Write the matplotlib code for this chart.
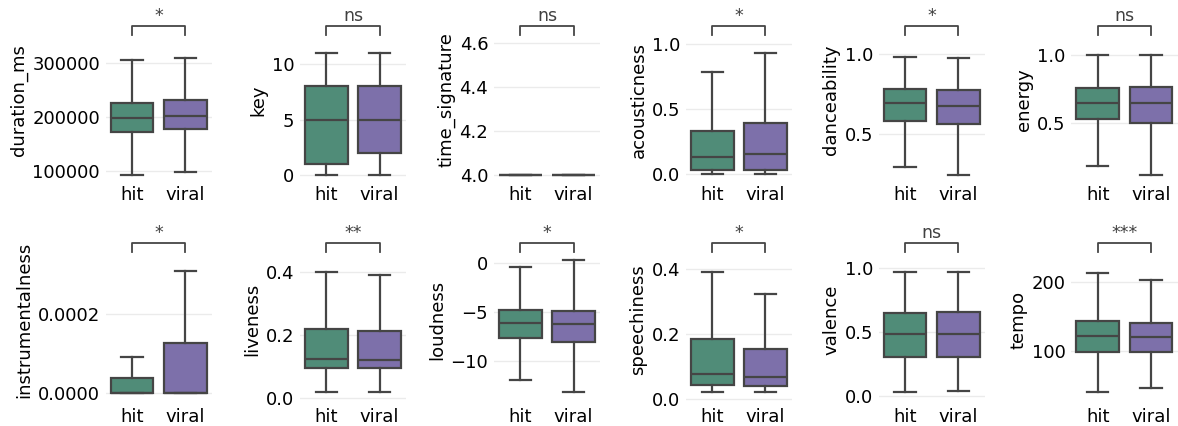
import numpy as np
import matplotlib.pyplot as plt
from matplotlib import transforms

# five-number summaries: [whislo, q1, median, q3, whishi]
features = ['duration_ms', 'key', 'time_signature', 'acousticness', 'danceability', 'energy',
            'instrumentalness', 'liveness', 'loudness', 'speechiness', 'valence', 'tempo']
groups = ['hit', 'viral']

hit_lo = [93000, 0, 4.0, 0.0, 0.292, 0.182, 0.0, 0.019, -11.93, 0.0206, 0.034, 40.1]
hit_q1 = [173000, 1, 4.0, 0.033, 0.583, 0.525, 0.0, 0.0966, -7.7, 0.0412, 0.305, 97.6]
hit_med = [199000, 5, 4.0, 0.131, 0.692, 0.643, 0.0, 0.125, -6.1, 0.0763, 0.483, 121.3]
hit_q3 = [225700, 8, 4.0, 0.333, 0.779, 0.754, 0.0000373, 0.219, -4.81, 0.1835, 0.650, 143.5]
hit_hi = [306000, 11, 4.0, 0.787, 0.979, 0.998, 0.0000915, 0.402, -0.47, 0.393, 0.974, 212]

viral_lo = [99000, 0, 4.0, 0.0, 0.246, 0.116, 0.0, 0.019, -13.12, 0.0206, 0.042, 46.4]
viral_q1 = [177600, 2, 4.0, 0.033, 0.5625, 0.5, 0.0, 0.0945, -8.1, 0.038, 0.305, 97.6]
viral_med = [203000, 5, 4.0, 0.154, 0.675, 0.643, 0.0, 0.12, -6.27, 0.066, 0.488, 119.8]
viral_q3 = [231000, 8, 4.0, 0.392, 0.775, 0.766, 0.000127, 0.213, -4.88, 0.1536, 0.661, 139.6]
viral_hi = [310000, 11, 4.0, 0.931, 0.977, 0.998, 0.000309, 0.391, 0.27, 0.325, 0.974, 202]

significance = ['*', 'ns', 'ns', '*', '*', 'ns', '*', '**', '*', '*', 'ns', '***']

yticks = [[100000, 200000, 300000], [0, 5, 10], [4.0, 4.2, 4.4, 4.6], [0.0, 0.5, 1.0],
          [0.5, 1.0], [0.5, 1.0], [0.0, 0.0002], [0.0, 0.2, 0.4], [-10, -5, 0],
          [0.0, 0.2, 0.4], [0.0, 0.5, 1.0], [100, 200]]
ytick_fmt = ['%d', '%d', '%.1f', '%.1f', '%.1f', '%.1f', '%.4f', '%.1f', '%d', '%.1f', '%.1f', '%d']

# view limits
ylims = [(83270, 380500), (-0.45, 14.0), (3.977, 4.703), (-0.044, 1.187), (0.2125, 1.2125),
         (0.0765, 1.259), (-0.0000236, 0.0003957), (-0.0127, 0.5124), (-14.17, 2.61),
         (-0.0102, 0.4998), (-0.047, 1.245), (25.6, 264.8)]

colors = ['#508c78', '#7d70aa']
line_c = '#454545'

W, H = 1178, 426
fig = plt.figure(figsize=(W / 100, H / 100), dpi=100)
col_left = [105.5, 299.7, 493.8, 685.6, 878.5, 1071.0]
ax_w = 106.5
rows = [(20, 180), (237, 402)]

for i, feat in enumerate(features):
    r, c = divmod(i, 6)
    top, bot = rows[r]
    ax = fig.add_axes([col_left[c] / W, 1 - bot / H, ax_w / W, (bot - top) / H])

    stats = [
        dict(whislo=hit_lo[i], q1=hit_q1[i], med=hit_med[i], q3=hit_q3[i], whishi=hit_hi[i]),
        dict(whislo=viral_lo[i], q1=viral_q1[i], med=viral_med[i], q3=viral_q3[i], whishi=viral_hi[i]),
    ]
    bp = ax.bxp(stats, positions=[0, 1], widths=0.8, capwidths=0.4, showfliers=False,
                patch_artist=True,
                boxprops=dict(edgecolor=line_c, linewidth=1.6),
                medianprops=dict(color=line_c, linewidth=1.6),
                whiskerprops=dict(color=line_c, linewidth=1.6),
                capprops=dict(color=line_c, linewidth=1.6))
    for patch, col in zip(bp['boxes'], colors):
        patch.set_facecolor(col)

    ax.set_xlim(-0.5, 1.5)
    ax.set_ylim(*ylims[i])
    ax.set_xticks([0, 1])
    ax.set_xticklabels(groups, fontsize=13)
    ax.set_yticks(yticks[i])
    ax.set_yticklabels([(ytick_fmt[i] % v).replace('-', '\u2212') for v in yticks[i]], fontsize=13)
    ax.set_ylabel(feat, fontsize=13, labelpad=3)
    ax.tick_params(length=0, pad=4)
    ax.yaxis.grid(True, color='#ebebeb', linewidth=1)
    ax.set_axisbelow(True)
    for s in ax.spines.values():
        s.set_visible(False)

    # significance bracket
    tr = transforms.blended_transform_factory(ax.transData, ax.transAxes)
    ytop = 1 - 6 / (bot - top)
    yleg = 1 - 15 / (bot - top)
    ax.plot([0, 0, 1, 1], [yleg, ytop, ytop, yleg], color=line_c, lw=1.3,
            transform=tr, clip_on=False)
    ax.text(0.5, ytop + 0.005, significance[i], transform=tr, ha='center', va='bottom',
            fontsize=12.5, color='#404040', clip_on=False)

fig.savefig('out.png', dpi=100)
